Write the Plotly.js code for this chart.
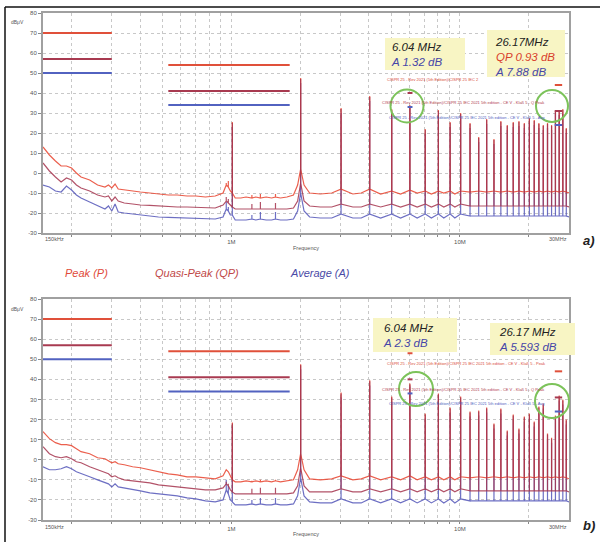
<!DOCTYPE html>
<html><head><meta charset="utf-8">
<script src="https://cdn.plot.ly/plotly-3.0.1.min.js"></script>
<style>html,body{margin:0;padding:0;background:#fff}#chart{width:600px;height:542px}</style>
</head><body><div id="chart"></div>
<script>
// ---------- DATA (MHz, dBuV) ----------
const fb = [0.15,0.16,0.17,0.18,0.19,0.2,0.21,0.22,0.24,0.26,
  0.28,0.29,0.3,0.31,0.32,0.34,0.37,0.4,0.44,0.48,
  0.53,0.58,0.64,0.7,0.77,0.85,0.92,0.95,0.97,0.99,
  1.01,1.04,1.1,1.16,1.23,1.28,1.34,1.42,1.5,1.56,
  1.64,1.75,1.87,1.95,2.01,2.08,2.2,2.45,2.75,3.02,
  3.4,3.7,4.03,4.5,5.03,5.5,6.04,6.5,7.05,7.5,
  8.05,8.5,9.06,9.5,10.07,11.07,12.08,13.09,14.09,15.10,
  16.11,17.11,18.12,19.13,20.13,21.14,22.15,23.15,24.16,25.17,
  26.17,27.18,28.19,29.19,30];

// panel a) baselines
const peakA = [13,9,6,3.5,3.5,2.5,0,-2,-3.5,-6,
  -7,-6,-7.5,-5.5,-8,-8.5,-9,-9.5,-10,-10.5,
  -11,-11,-11.5,-11.5,-12,-11.5,-10,-6,-7,-9,
  -10,-12.5,-12.5,-12,-12.5,-12,-12.5,-12,-12.5,-12,
  -12.5,-12,-11,-6,2,-6,-10,-10.5,-10,-8,
  -10.5,-10,-8,-10.5,-9,-10.5,-8.5,-10,-9,-10.5,
  -9,-10,-9,-10.5,-9,-9.5,-9,-9.5,-9,-9.5,
  -9,-9.5,-9,-9.5,-9,-9.5,-9,-9.5,-9,-9.5,
  -9,-9.5,-9,-9.5,-10];
const qpA = [5,1,-2,-4.5,-2.5,-3.5,-6,-7.5,-9,-11,
  -12,-11.5,-14,-12,-14,-15,-15.5,-16,-16.2,-16.5,
  -16.8,-17,-17,-17.2,-17.4,-17.5,-16,-14,-15,-16,
  -17,-18,-18,-18,-18,-18,-18,-18,-18,-18,
  -18,-18,-17.5,-14,-5,-14,-16.5,-17,-17,-15.5,
  -17,-17,-15.5,-17,-15.5,-17,-15.5,-17,-15.5,-17,
  -15.5,-17,-15.5,-17,-15.5,-16.5,-16.5,-16.5,-16.5,-16.5,
  -16.5,-16.5,-16.5,-16.5,-16.5,-16.5,-16.5,-16.5,-16.5,-16.5,
  -16.5,-16.5,-16.5,-16.5,-17];
const avgA = [-6,-7,-9,-9.5,-6.5,-8.5,-11,-12.5,-14.5,-16.5,
  -18,-16.5,-19,-15.5,-19.5,-20,-20.5,-21,-21.5,-22,
  -22.2,-22.4,-22.6,-22.8,-23,-23,-22,-18,-19,-21,
  -21,-23.5,-23.5,-23.5,-23,-23.5,-23,-23.5,-23.5,-23,
  -23.5,-23.5,-23,-19,-10,-19,-22,-22.5,-22.5,-20.5,
  -22.5,-22.5,-20.5,-22.5,-20.5,-22.5,-20.5,-22.5,-20.5,-22.5,
  -20.5,-22.5,-20.5,-22.5,-20.5,-21.5,-21.5,-21.5,-21.5,-21.5,
  -21.5,-21.5,-21.5,-21.5,-21.5,-21.5,-21.5,-21.5,-21.5,-21.5,
  -21.5,-21.5,-21.5,-21.5,-22];

// panel b) baselines
const peakB = [14,10.5,8.5,7.5,7.5,7,5.5,4,3,1,
  0.5,-0.5,-1.5,-1,-2,-2.5,-3.5,-4,-5,-6,
  -7,-7.5,-8.5,-8.5,-9,-9.5,-8,-5,-6,-8,
  -10,-11,-11,-10.5,-11,-10.5,-11,-10.5,-11,-10.5,
  -11,-10.5,-10,-5,3,-5,-9.5,-10,-9.5,-8,
  -10,-9.5,-8,-10,-8.5,-10,-8,-10,-8.5,-10,
  -8.5,-10,-8.5,-10,-8.5,-9,-8.5,-9,-8.5,-9,
  -8.5,-9,-8.5,-9,-8.5,-9,-8.5,-9,-8.5,-9,
  -8.5,-9,-8.5,-9,-9.5];
const qpB = [6.5,3,1.5,1,1.5,0.5,-1,-1.5,-3.5,-5,
  -6.5,-7,-8.5,-8,-9,-10,-10.5,-11,-11.5,-12.5,
  -13,-13.5,-14,-14.5,-15,-15,-14,-12,-13,-15,
  -16,-17,-17,-17,-17,-17,-17,-17,-17,-17,
  -17,-17,-16.5,-13,-4,-13,-16,-16,-16,-14.5,
  -16,-16,-14.5,-16,-14.5,-16,-14.5,-16,-14.5,-16,
  -14.5,-16,-14.5,-16,-14.5,-15.5,-15.5,-15.5,-15.5,-15.5,
  -15.5,-15.5,-15.5,-15.5,-15.5,-15.5,-15.5,-15.5,-15.5,-15.5,
  -15.5,-15.5,-15.5,-15.5,-16];
const avgB = [-3.5,-5,-5,-4.5,-3.5,-4.5,-6,-7,-8.5,-10,
  -11.5,-12,-13.5,-12,-13.5,-14,-15,-15.5,-16.5,-17,
  -17.5,-18,-19,-19.5,-20.5,-21,-20,-15,-17,-20,
  -21,-22.5,-22.5,-22.5,-22,-22.5,-22,-22.5,-22.5,-22,
  -22.5,-22.5,-22,-18,-9,-18,-21,-21.5,-21.5,-19.5,
  -21.5,-21.5,-19.5,-21.5,-19.5,-21.5,-19.5,-21.5,-19.5,-21.5,
  -19.5,-21.5,-19.5,-21.5,-19.5,-20.5,-20.5,-20.5,-20.5,-20.5,
  -20.5,-20.5,-20.5,-20.5,-20.5,-20.5,-20.5,-20.5,-20.5,-20.5,
  -20.5,-20.5,-20.5,-20.5,-21];

// harmonic spikes (frequencies are points of fb)
const spikeFreq = [0.95,0.97,1.01,1.23,1.34,1.56,2.01,3.02,4.03,5.03,6.04,7.05,8.05,9.06,10.07,11.07,12.08,13.09,14.09,15.10,16.11,17.11,18.12,19.13,20.13,21.14,22.15,23.15,24.16,25.17,26.17,27.18,28.19,29.19];
const peakTopA = [-5,-4,25.5,-11,-10.5,-10.5,47.5,32.5,38.5,32,34,22,31.5,25.5,30,25,18,27,17,26,24,25.5,26,25,27.5,26.5,25,24,25,24,31.5,31.5,32,22.5];
const qpTopA   = [-12,-13,25,-15.5,-14.5,-15,47,32,38,31.5,33.5,21.5,31,25,29.5,24.5,17.5,26.5,16.5,25.5,23.5,25,25.5,24.5,27,26,24.5,23.5,24.5,23.5,31,31,31.5,22];
const avgTopA  = [-14.5,-17,23,-21,-19.5,-19.5,45,30,36,29.5,33,19.5,29,23,27.5,22.5,15.5,24.5,14.5,23.5,21.5,23,23.5,22.5,25,24,22.5,21.5,22.5,21.5,30,29,29.5,20];
const peakTopB = [-5,-6,18.5,-10.5,-10,-10,47.5,33.5,39.5,31.5,38,23,33,26,31.5,24,24.5,26,18,25.5,14.5,22.5,15.5,21.5,23,19,26.5,28,13,11,22,32,30,20];
const qpTopB   = [-11,-12,18,-14.5,-14,-14,47,33,39,31,37.5,22.5,32.5,25.5,31,23.5,24,25.5,17.5,25,14,22,15,21,22.5,18.5,26,27.5,12.5,10.5,21.5,31.5,29.5,19.5];
const avgTopB  = [-10,-13,16.5,-20,-19,-19,45,31,37,29,36.5,20.5,30.5,23.5,29,21.5,22,23.5,15.5,23,12,20,13,19,20.5,16.5,24,25.5,10.5,8.5,20,29.5,27.5,17.5];

// CISPR 25 class 5 limits
const limLo   = [0.15, 0.53, 5.9, 26];
const limHi   = [0.30, 1.8, 6.2, 28];
const limPeak = [70, 54, 53, 44];
const limQP   = [57, 41, 40, 31];
const limAvg  = [50, 34, 33, 24];

const yTicks = [-30,-20,-10,0,10,20,30,40,50,60,70,80];
const yTickText = ['-30','-20','-10','0','10','20','30','40','50','60','70','80'];
const xGrid = [0.2,0.3,0.4,0.5,0.6,0.7,0.8,0.9,1,2,3,4,5,6,7,8,9,10,20];
const xGridText = ['','','','','','','','','1M','','','','','','','','','10M',''];

// ---------- BUILD ----------
const W=600,H=542;
const px = x => x/W;
const py = y => 1 - y/H;
const colP='#e8432e', colQ='#a4344e', colA='#5456b8';
const limColP='#e0503a', limColQ='#a83a50', limColA='#5262c0';

function series(base, tops){
  const x=[], y=[];
  for(let i=0;i<fb.length;i++){
    x.push(fb[i]); y.push(base[i]);
    const j = spikeFreq.indexOf(fb[i]);
    if(j>=0){ x.push(fb[i], fb[i]); y.push(tops[j], base[i]); }
  }
  return {x,y};
}

const traces=[];
function addPanel(xa, ya, pB, qB, aB, pT, qT, aT){
  [[aB,aT,colA],[pB,pT,colP],[qB,qT,colQ]].forEach(([b,t,c])=>{
    const s=series(b,t);
    traces.push({x:s.x,y:s.y,xaxis:xa,yaxis:ya,mode:'lines',
      line:{color:c,width:1.2},opacity:0.85,hoverinfo:'skip',showlegend:false});
  });
  [[limPeak,limColP],[limQP,limColQ],[limAvg,limColA]].forEach(([lv,c])=>{
    for(let i=0;i<limLo.length;i++){
      traces.push({x:[limLo[i],limHi[i]],y:[lv[i],lv[i]],xaxis:xa,yaxis:ya,mode:'lines',
        line:{color:c,width:2},hoverinfo:'skip',showlegend:false});
    }
  });
}
addPanel('x','y',peakA,qpA,avgA,peakTopA,qpTopA,avgTopA);
addPanel('x2','y2',peakB,qpB,avgB,peakTopB,qpTopB,avgTopB);

function xax(anchor){
  return {type:'log',anchor:anchor,domain:[px(43),px(569)],range:[Math.log10(0.15),Math.log10(30)],
    tickvals:xGrid,ticktext:xGridText,showgrid:true,gridcolor:'#c8c8c8',griddash:'dot',gridwidth:1,
    showline:true,mirror:true,linecolor:'#a0a0a0',linewidth:2,ticks:'outside',ticklen:2,tickcolor:'#888',
    tickfont:{size:6,color:'#555',family:'Liberation Sans, Arial, sans-serif'},zeroline:false,fixedrange:true};
}
function yax(anchor, top, bottom){
  return {anchor:anchor,domain:[py(bottom),py(top)],range:[-30,80],tickvals:yTicks,ticktext:yTickText,
    showgrid:true,gridcolor:'#c8c8c8',griddash:'dot',gridwidth:1,
    showline:true,mirror:true,linecolor:'#a0a0a0',linewidth:2,ticks:'outside',ticklen:3,tickcolor:'#888',
    tickfont:{size:6,color:'#555',family:'Liberation Sans, Arial, sans-serif'},zeroline:false,fixedrange:true};
}

const F='Liberation Sans, Arial, sans-serif';
function ann(x,y,text,size,color,xanchor){
  return {xref:'paper',yref:'paper',x:px(x),y:py(y),text:text,showarrow:false,
    xanchor:xanchor||'left',yanchor:'middle',align:'left',font:{size:size,color:color,family:F}};
}
const cisprP='CISPR 25 - Rev 2021 (5th Edition)/CISPR 25 IEC 2021 5th edition - CE V - Klaß 5 - Peak';
const cisprQ='CISPR 25 - Rev 2021 (5th Edition)/CISPR 25 IEC 2021 5th edition - CE V - Klaß 5 - Q Peak';
const cisprA='CISPR 25 - Rev 2021 (5th Edition)/CISPR 25 IEC 2021 5th edition - CE V - Klaß 5 - Avg';
const cB='#4646a8', cR='#d8402c', cK='#222';
const sp=(t,c)=>'<span style="color:'+c+'">'+t+'</span>';

const annotations=[
  // panel a
  ann(17,22,'dBμV',5,'#555','center'),
  ann(43,239,'150kHz',5.5,'#555','left'),
  ann(569,239,'30MHz',5.5,'#555','right'),
  ann(306,248,'Frequency',5.5,'#555','center'),
  ann(385,79,'CISPR 25 - Rev 2021 (5th Edition)/CISPR 25 IEC 2',4,'#d84a3a'),
  ann(380,103,cisprQ,4,'#b04050'),
  ann(387,118,cisprA,4,'#5060c0'),
  ann(389,55,'<i>'+sp('6.04 MHz',cK)+'<br>'+sp('A 1.32 dB',cB)+'</i>',11.5,cK),
  ann(493,57,'<i>'+sp('26.17MHz',cK)+'<br>'+sp('QP 0.93 dB',cR)+'<br>'+sp('A 7.88 dB',cB)+'</i>',11.5,cK),
  ann(589,240,'<b><i>a)</i></b>',13,'#222','center'),
  // legend row
  ann(63,273,'<i>Peak (P)</i>',11,'#e04a3a'),
  ann(153,273,'<i>Quasi-Peak (QP)</i>',11,'#c04848'),
  ann(288,273,'<i>Average (A)</i>',11,'#4a4aa6'),
  // panel b
  ann(17,309,'dBμV',5,'#555','center'),
  ann(43,527,'150kHz',5.5,'#555','left'),
  ann(569,527,'30MHz',5.5,'#555','right'),
  ann(306,534,'Frequency',5.5,'#555','center'),
  ann(385,363,cisprP,4,'#d84a3a'),
  ann(380,389,cisprQ,4,'#b04050'),
  ann(387,403,cisprA,4,'#5060c0'),
  ann(381,335.5,'<i>'+sp('6.04 MHz',cK)+'<br>'+sp('A 2.3 dB',cB)+'</i>',11.5,cK),
  ann(497,339,'<i>'+sp('26.17 MHz',cK)+'<br>'+sp('A 5.593 dB',cB)+'</i>',11.5,cK),
  ann(589,525,'<b><i>b)</i></b>',13,'#222','center')
];

function rect(x0,y0,x1,y1){
  return {type:'rect',xref:'paper',yref:'paper',x0:px(x0),x1:px(x1),y0:py(y1),y1:py(y0),
    fillcolor:'#f8f5c4',line:{width:0},layer:'above'};
}
function circ(cx,cy,r){
  return {type:'circle',xref:'paper',yref:'paper',x0:px(cx-r),x1:px(cx+r),y0:py(cy+r),y1:py(cy-r),
    line:{color:'#7cc35a',width:2},layer:'above'};
}
const shapes=[
  rect(385,38,465,70), rect(487,30,565,77),
  rect(373,318,457,352), rect(490,323,575,355),
  circ(407,106,16.5), circ(552,106,16),
  circ(416,389,17), circ(552,401,17),
  {type:'line',xref:'paper',yref:'paper',x0:px(5),x1:px(5),y0:py(7),y1:0,line:{color:'#111',width:1.5}},
  {type:'line',xref:'paper',yref:'paper',x0:px(5),x1:1,y0:py(7),y1:py(7),line:{color:'#111',width:1.5}}
];

const layout={
  width:600,height:542,margin:{l:0,r:0,t:0,b:0},
  paper_bgcolor:'#fff',plot_bgcolor:'#fff',showlegend:false,
  xaxis:xax('y'), yaxis:yax('x',13,233),
  xaxis2:xax('y2'), yaxis2:yax('x2',299,520),
  annotations:annotations, shapes:shapes
};
Plotly.newPlot('chart',traces,layout,{staticPlot:true,displayModeBar:false});
</script>
</body></html>
